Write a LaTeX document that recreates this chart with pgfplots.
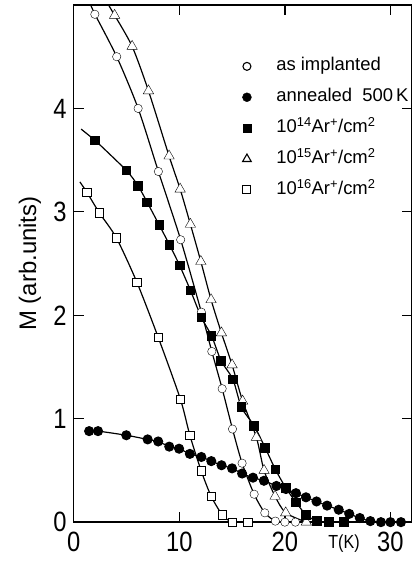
\documentclass[border=0pt]{standalone}
\usepackage{fontspec}
\setmainfont{Liberation Sans}
\newfontfamily\narrow{Liberation Sans}[FakeStretch=0.85]
\usepackage{pgfplots}
\pgfplotsset{compat=1.18}
\usepackage{pgfplotstable}

% M(T)
\pgfplotstableread{
T M
2.00 4.91
4.07 4.50
6.10 4.00
8.02 3.39
10.13 2.73
12.09 2.03
13.08 1.65
14.06 1.29
15.04 0.90
15.95 0.57
17.09 0.27
18.10 0.09
19.10 0.01
20.00 0.00
21.00 0.00
}\asimpl
\pgfplotstableread{
T M
1.46 0.88
2.30 0.88
4.98 0.84
7.00 0.80
8.00 0.78
9.05 0.73
9.98 0.71
11.00 0.66
12.09 0.63
13.03 0.59
14.00 0.55
15.00 0.52
15.95 0.47
16.98 0.43
18.02 0.40
19.20 0.35
20.10 0.32
21.05 0.28
22.00 0.24
23.00 0.20
24.00 0.16
25.10 0.12
26.10 0.08
27.10 0.04
28.10 0.01
29.10 0.00
30.00 0.00
31.00 0.00
}\annealed
\pgfplotstableread{
T M
2.04 3.69
4.99 3.40
6.10 3.25
6.97 3.09
8.11 2.87
9.08 2.68
10.04 2.48
11.06 2.24
12.09 1.98
13.06 1.80
13.96 1.56
15.08 1.38
15.89 1.11
17.10 0.93
18.13 0.72
19.10 0.51
20.10 0.33
21.07 0.19
22.02 0.07
23.06 0.01
24.20 0.00
25.60 0.00
}\dosefourteen
\pgfplotstableread{
T M
3.87 4.90
5.53 4.60
7.08 4.17
9.03 3.54
10.08 3.22
11.05 2.88
12.04 2.52
13.01 2.15
13.99 1.83
15.00 1.52
16.00 1.17
17.30 0.82
18.03 0.50
19.07 0.25
20.08 0.09
22.03 0.00
}\dosefifteen
\pgfplotstableread{
T M
1.25 3.19
2.43 2.99
4.03 2.75
5.98 2.32
7.99 1.79
10.10 1.19
11.00 0.84
12.06 0.50
13.02 0.25
14.08 0.07
15.02 0.00
16.50 0.00
}\dosesixteen

\begin{document}
\begin{tikzpicture}
\useasboundingbox (-74pt,-40pt) rectangle (340pt,524pt);
\begin{axis}[
  scale only axis, width=339pt, height=519pt,
  xmin=0, xmax=32, ymin=0, ymax=5,
  xtick={0,10,20,30}, ytick={0,1,2,3,4},
  tick align=inside, major tick length=10pt,
  every tick/.style={black, line width=1.3pt},
  axis line style={line width=1.5pt},
  /pgf/number format/assume math mode=true,
  tick label style={font=\narrow\fontsize{28}{30}\selectfont, inner sep=1pt},
  xticklabel style={yshift=-9pt},
  yticklabel style={xshift=-6pt},
  xlabel={T(K)}, ylabel={M (arb.units)},
  every axis x label/.style={at={(rel axis cs:0.8,0)}, anchor=center, yshift=-22pt,
    font=\narrow\fontsize{19}{21}\selectfont},
  every axis y label/.style={at={(rel axis cs:-0.13,0.5)}, anchor=center, rotate=90,
    font=\fontsize{24}{26}\selectfont},
  clip mode=individual,
  legend cell align=left,
  legend style={at={(rel axis cs:0.49,0.9)}, anchor=north west, draw=none, fill=none,
    font=\fontsize{18.5}{20}\selectfont, row sep=16pt, column sep=25pt,
    nodes={inner sep=0pt, text height=12pt, text depth=3pt}},
  curve/.style={black, line width=1.2pt, smooth, tension=0.45, no marks, forget plot},
  pts/.style={only marks, forget plot, mark options={solid, line width=1.1pt}},
]
\addlegendimage{only marks, mark=*, mark size=4pt, mark options={fill=white, line width=1.1pt}}
\addlegendentry{as implanted}
\addlegendimage{only marks, mark=*, mark size=4.5pt}
\addlegendentry{annealed\ \ 500\,K}
\addlegendimage{only marks, mark=square*, mark size=4pt}
\addlegendentry{10\textsuperscript{14}Ar\textsuperscript{+}/cm\textsuperscript{2}}
\addlegendimage{only marks, mark=triangle*, mark size=5pt, mark options={fill=white, line width=1.1pt}}
\addlegendentry{10\textsuperscript{15}Ar\textsuperscript{+}/cm\textsuperscript{2}}
\addlegendimage{only marks, mark=square*, mark size=4pt, mark options={fill=white, line width=1.1pt}}
\addlegendentry{10\textsuperscript{16}Ar\textsuperscript{+}/cm\textsuperscript{2}}

% curves
\addplot[curve] table {\asimpl};
\addplot[curve] table {\annealed};
\addplot[curve] table {\dosefourteen};
\addplot[curve] table {\dosefifteen};
\addplot[curve] table {\dosesixteen};
\addplot[curve] coordinates {(1.6,5.0) (2.00,4.91)};
\addplot[curve] coordinates {(3.3,5.0) (3.87,4.90)};
\addplot[curve] coordinates {(0.7,3.80) (2.04,3.69)};
\addplot[curve] coordinates {(0.58,3.29) (1.25,3.19)};

% markers
\addplot[pts, mark=square*, mark size=4.3pt, mark options={fill=white}] table {\dosesixteen};
\addplot[pts, mark=triangle*, mark size=6pt, mark options={fill=white}] table {\dosefifteen};
\addplot[pts, mark=*, mark size=4.2pt, mark options={fill=white}] table {\asimpl};
\addplot[pts, mark=square*, mark size=4.3pt, black] table {\dosefourteen};
\addplot[pts, mark=*, mark size=4.5pt, black] table {\annealed};
\end{axis}
\end{tikzpicture}
\end{document}
